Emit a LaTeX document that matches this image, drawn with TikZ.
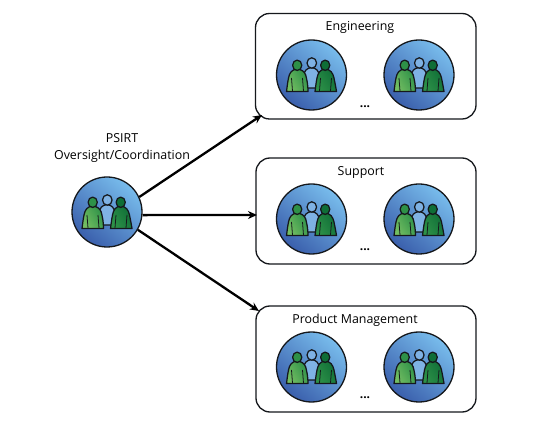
\documentclass[tikz,border=0pt]{standalone}
\usepackage{fontspec}
\setmainfont{Open Sans}
\usetikzlibrary{arrows.meta}
\definecolor{edgeblk}{HTML}{15181C}
\definecolor{blueL}{HTML}{78BCEC}
\definecolor{blueD}{HTML}{3A5FAC}
\definecolor{grnL}{HTML}{74BE62}
\definecolor{grnM}{HTML}{2E9148}
\definecolor{grnD}{HTML}{0F6E37}
\definecolor{midB}{HTML}{7FB2E4}
\tikzset{
  x=1pt,y=-1pt,
  groupbox/.style={draw=edgeblk,line width=1.3pt,rounded corners=14pt,fill=white},
  teamdisc/.style={circle,draw=edgeblk,line width=1.3pt,minimum size=70pt,inner sep=0pt,shade,shading=axis,top color=blueL,bottom color=blueD,shading angle=-40},
  flow/.style={draw=black,line width=2.3pt,-{Stealth[length=9pt,width=8pt]}},
  lbl/.style={font=\fontsize{12.4}{17}\selectfont,text=black,align=center,inner sep=0pt},
  pout/.style={draw=edgeblk,line width=1.25pt,line join=round},
  person/.pic={
    \path[pout,fill=midB] (-9,3) .. controls (-7,-5) and (-5,-6.5) .. (0,-7.5) .. controls (5,-6.5) and (7,-5) .. (9,3) -- (9,13) -- (-9,13) -- cycle;
    \path[pout,fill=midB] (0.3,-12) ellipse [x radius=4.8,y radius=5.2];
    \path[pout,top color=grnM,bottom color=grnL,shading angle=-60] (-14.3,-6) .. controls (-20,-5.5) and (-22,-2) .. (-23,3) .. controls (-24,8) and (-24.5,13) .. (-25,16.5) -- (-3.5,16.5) .. controls (-3.5,10) and (-4.5,5) .. (-5.8,0) .. controls (-7,-3.5) and (-10,-5.5) .. (-14.3,-6) -- cycle;
    \path[pout,fill=grnM] (-14.3,-9.7) ellipse [x radius=4.6,y radius=5.2];
    \path[pout,top color=grnD,bottom color=grnM,shading angle=-60] (13.7,-6) .. controls (8.5,-5.5) and (6.5,-2) .. (5.5,3) .. controls (4.5,8) and (4,13) .. (3.5,16.5) -- (25,16.5) .. controls (24.5,13) and (23.5,8) .. (22.5,3) .. controls (21.5,-2) and (19,-5.5) .. (13.7,-6) -- cycle;
    \path[pout,fill=grnD] (13.7,-9.7) ellipse [x radius=4.6,y radius=5.2];
    \draw[edgeblk,line width=.8pt] (-20,3) -- (-19,16) (-9,3) -- (-8,16) (9,3) -- (8,16) (20,3) -- (19,16);
  }
}
\newcommand{\teamat}[3]{%
  \node[teamdisc] (#1) at (#2,#3) {};
  \pic at (#2,#3) {person};
}
\begin{document}
\begin{tikzpicture}
\useasboundingbox (0,0) rectangle (550,422);
\fill[white] (0,0) rectangle (550,422);
\path[groupbox] (255.5,13.5) rectangle (476,119);
\path[groupbox] (256,158) rectangle (476,264);
\path[groupbox] (256,306) rectangle (476,412);
\teamat{hub}{107}{212}
\teamat{ea}{311.5}{75}
\teamat{eb}{419}{75}
\teamat{sa}{311.5}{219}
\teamat{sb}{419}{219}
\teamat{pa}{311.5}{367}
\teamat{pb}{419}{367}
\node[lbl] (tE) at (360,27) {Engineering};
\node[lbl] (tS) at (361,172.5) {Support};
\node[lbl] (tP) at (355,320) {Product Management};
\node[lbl,font=\fontsize{12}{16}\selectfont\bfseries] (dE) at (365,107) {...};
\node[lbl,font=\fontsize{12}{16}\selectfont\bfseries] (dS) at (365,250) {...};
\node[lbl,font=\fontsize{12}{16}\selectfont\bfseries] (dP) at (365,398) {...};
\node[lbl] (tH) at (122,148) {PSIRT\\Oversight/Coordination};
\coordinate (ae) at (262,115);
\coordinate (as) at (257,215);
\coordinate (ap) at (259,311);
\draw[flow] (hub.25) -- (ae);
\draw[flow] (hub.-5) -- (as);
\draw[flow] (hub.-30) -- (ap);
\end{tikzpicture}
\end{document}
